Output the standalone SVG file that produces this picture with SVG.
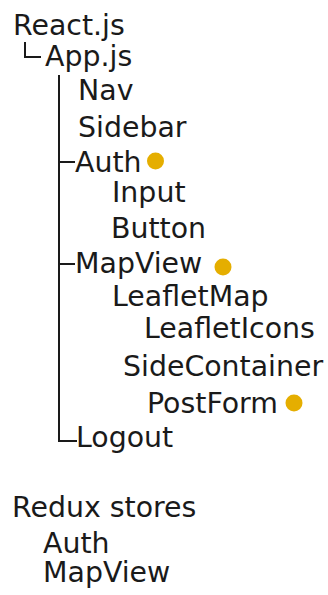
<svg xmlns="http://www.w3.org/2000/svg" width="328" height="595" viewBox="0 0 328 595">
<style>
text{font-family:"DejaVu Sans",Verdana,sans-serif;font-size:28.4px;fill:#1a1a1a}
.ln{stroke:#1a1a1a;stroke-width:2;fill:none}
.dot{fill:#e5ae00}
</style>
<rect width="328" height="595" fill="#fff"/>
<g id="connectors">
<path class="ln" d="M25 42V57H41"/>
<path class="ln" d="M59 75V441H77"/>
<path class="ln" d="M59 162H75"/>
<path class="ln" d="M59 264H75"/>
</g>
<g id="react"><text x="13" y="35">React.js</text></g>
<g id="app"><text x="45" y="66">App.js</text></g>
<g id="nav"><text x="78" y="100">Nav</text></g>
<g id="sidebar"><text x="78" y="137">Sidebar</text></g>
<g id="auth"><text x="75" y="172">Auth</text><circle class="dot" cx="155.5" cy="161" r="8.5"/></g>
<g id="input"><text x="112" y="202">Input</text></g>
<g id="button"><text x="111" y="238">Button</text></g>
<g id="mapview"><text x="75" y="273">MapView</text><circle class="dot" cx="223" cy="267" r="8.5"/></g>
<g id="leafletmap"><text x="112" y="306">LeafletMap</text></g>
<g id="leafleticons"><text x="144" y="338">LeafletIcons</text></g>
<g id="sidecontainer"><text x="123" y="376">SideContainer</text></g>
<g id="postform"><text x="147" y="413">PostForm</text><circle class="dot" cx="294" cy="403" r="8.5"/></g>
<g id="logout"><text x="76" y="447">Logout</text></g>
<g id="redux"><text x="12" y="517">Redux stores</text></g>
<g id="store-auth"><text x="43" y="553">Auth</text></g>
<g id="store-mapview"><text x="43" y="582">MapView</text></g>
</svg>
